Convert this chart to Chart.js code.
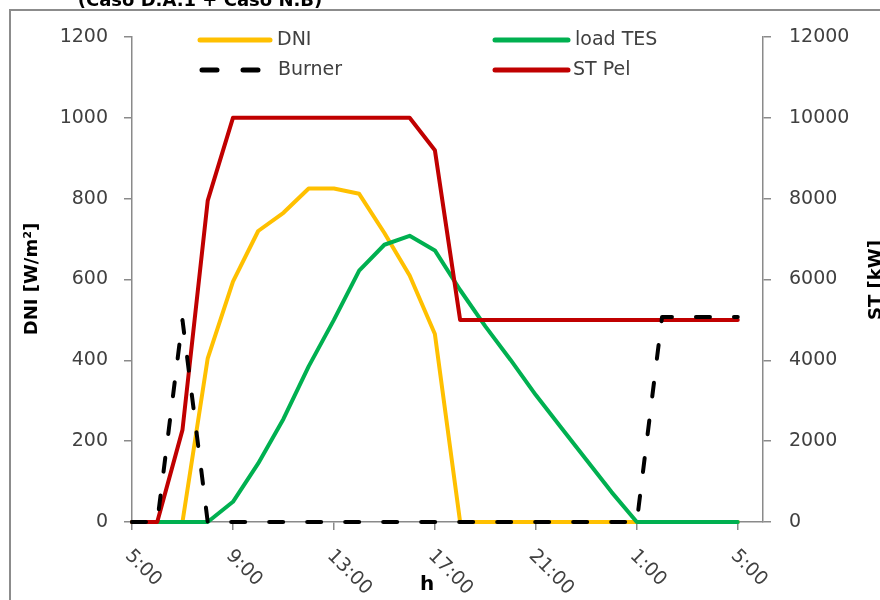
<!DOCTYPE html>
<html>
<head>
<meta charset="utf-8">
<script src="https://cdn.jsdelivr.net/npm/chart.js@4.4.0/dist/chart.umd.min.js"></script>
<style>
  html, body { margin: 0; padding: 0; background: #fff; }
</style>
</head>
<body>
<canvas id="chart" width="880" height="600"></canvas>
<script>
// categorias: horas desde 5:00 hasta 6:00 del dia siguiente
const hourLabels = ['5:00', '6:00', '7:00', '8:00', '9:00', '10:00', '11:00', '12:00', '13:00',
    '14:00', '15:00', '16:00', '17:00', '18:00', '19:00', '20:00', '21:00', '22:00', '23:00',
    '0:00', '1:00', '2:00', '3:00', '4:00', '5:00', '6:00'];
const shownTicks = [0, 4, 8, 12, 16, 20, 24];

// DNI [W/m2] (eje izquierdo)
const dniValues = [0, 0, 0, 405, 595, 720, 765, 825, 825, 812, 715, 610, 465, 0,
    0, 0, 0, 0, 0, 0, 0, 0, 0, 0, 0];
// kW (eje derecho)
const loadTesValues = [0, 0, 0, 0, 500, 1450, 2550, 3850, 5000, 6220, 6860, 7080, 6720, 5740,
    4840, 4010, 3140, 2340, 1540, 740, 0, 0, 0, 0, 0];
const stPelValues = [0, 0, 2280, 7950, 10000, 10000, 10000, 10000, 10000, 10000, 10000, 10000, 9200, 5000,
    5000, 5000, 5000, 5000, 5000, 5000, 5000, 5000, 5000, 5000, 5000];
const burnerValues = [0, 0, 5000, 0, 0, 0, 0, 0, 0, 0, 0, 0, 0, 0,
    0, 0, 0, 0, 0, 0, 0, 5070, 5070, 5070, 5070];

const leftTicks = [0, 200, 400, 600, 800, 1000, 1200];
const rightTicks = [0, 2000, 4000, 6000, 8000, 10000, 12000];

const axisGray = '#8a8a8a';
const tickColor = '#404040';
const tickFont = { family: 'DejaVu Sans', size: 19 };

const decorations = {
    id: 'decorations',
    beforeDraw(chart) {
        const ctx = chart.ctx;
        ctx.save();
        ctx.fillStyle = '#fff';
        ctx.fillRect(0, 0, chart.width, chart.height);
        ctx.strokeStyle = '#8c8c8c';
        ctx.lineWidth = 2;
        ctx.strokeRect(10, 10, chart.width + 20, chart.height + 20);
        // titulo (cortado arriba)
        ctx.fillStyle = '#000';
        ctx.font = 'bold 18px "DejaVu Sans"';
        ctx.textAlign = 'center';
        ctx.textBaseline = 'alphabetic';
        ctx.fillText('(Caso D.A.1 + Caso N.B)', 200, 6);
        ctx.restore();
    },
    afterDraw(chart) {
        const ctx = chart.ctx;
        const xs = chart.scales.x;
        ctx.save();

        // etiquetas del eje x giradas 45 grados
        ctx.font = '19px "DejaVu Sans"';
        ctx.fillStyle = tickColor;
        ctx.textAlign = 'left';
        ctx.textBaseline = 'middle';
        shownTicks.forEach((i) => {
            const px = xs.getPixelForValue(i);
            ctx.save();
            ctx.translate(px - 4, xs.top + 31);
            ctx.rotate(Math.PI / 4);
            ctx.fillText(hourLabels[i], 0, 0);
            ctx.restore();
        });

        // titulos de ejes
        ctx.fillStyle = '#000';
        ctx.font = 'bold 20px "DejaVu Sans"';
        ctx.textAlign = 'center';
        ctx.fillText('h', 427, 585);

        ctx.font = 'bold 18px "DejaVu Sans"';
        ctx.save();
        ctx.translate(32, 279);
        ctx.rotate(-Math.PI / 2);
        ctx.fillText('DNI [W/m²]', 0, 0);
        ctx.restore();

        ctx.save();
        ctx.translate(867, 280);
        ctx.rotate(-Math.PI / 2);
        ctx.textBaseline = 'top';
        ctx.fillText('ST [kW]', 0, 0);
        ctx.restore();

        // leyenda en dos columnas
        const byLabel = {};
        chart.data.datasets.forEach(ds => { byLabel[ds.label] = ds; });
        const items = [
            { label: 'DNI', x1: 200, x2: 270, y: 40, tx: 277 },
            { label: 'Burner', x1: 202, x2: 265, y: 70, tx: 278 },
            { label: 'load TES', x1: 495, x2: 568, y: 40, tx: 575 },
            { label: 'ST Pel', x1: 495, x2: 568, y: 70, tx: 573 },
        ];
        items.forEach(it => {
            const ds = byLabel[it.label];
            ctx.save();
            ctx.strokeStyle = ds.borderColor;
            ctx.lineWidth = 5;
            ctx.lineCap = 'round';
            ctx.setLineDash(ds.borderDash ? [15, 26] : []);
            ctx.beginPath();
            ctx.moveTo(it.x1, it.y);
            ctx.lineTo(it.x2, it.y);
            ctx.stroke();
            ctx.restore();
            ctx.fillStyle = tickColor;
            ctx.font = '19px "DejaVu Sans"';
            ctx.textAlign = 'left';
            ctx.textBaseline = 'middle';
            ctx.fillText(it.label, it.tx, it.y);
        });
        ctx.restore();
    }
};

const lineDefaults = {
    borderWidth: 4,
    pointRadius: 0,
    tension: 0,
    clip: false,
    borderJoinStyle: 'round',
    borderCapStyle: 'round',
    fill: false,
};

new Chart(document.getElementById('chart'), {
    type: 'line',
    data: {
        labels: hourLabels,
        datasets: [
            { ...lineDefaults, label: 'Burner', data: burnerValues, yAxisID: 'y2',
              borderColor: '#000000', borderDash: [14, 24] },
            { ...lineDefaults, label: 'ST Pel', data: stPelValues, yAxisID: 'y2', borderColor: '#C00000' },
            { ...lineDefaults, label: 'load TES', data: loadTesValues, yAxisID: 'y2', borderColor: '#00B050' },
            { ...lineDefaults, label: 'DNI', data: dniValues, yAxisID: 'y', borderColor: '#FFC000' },
        ]
    },
    options: {
        responsive: false,
        animation: false,
        devicePixelRatio: 1,
        layout: { padding: { top: 37, left: 0, right: 0, bottom: 0 } },
        plugins: {
            legend: { display: false },
            tooltip: { enabled: false },
        },
        scales: {
            x: {
                type: 'category',
                offset: false,
                ticks: { display: false, autoSkip: false },
                grid: {
                    drawOnChartArea: false,
                    drawTicks: true,
                    tickLength: 8,
                    lineWidth: 1.5,
                    color: (c) => shownTicks.includes(c.index) ? axisGray : 'rgba(0,0,0,0)',
                },
                border: { display: true, color: axisGray, width: 1.5 },
                afterFit: (s) => { s.height = 78; },
            },
            y: {
                position: 'left',
                min: 0,
                max: 1200,
                afterBuildTicks: (s) => { s.ticks = leftTicks.map(v => ({ value: v })); },
                ticks: { color: tickColor, font: tickFont, padding: 16, callback: (v) => String(v) },
                grid: { drawOnChartArea: false, tickLength: 8, color: axisGray, lineWidth: 1.5 },
                border: { display: true, color: axisGray, width: 1.5 },
                afterFit: (s) => { s.width = 132; },
            },
            y2: {
                position: 'right',
                min: 0,
                max: 12000,
                afterBuildTicks: (s) => { s.ticks = rightTicks.map(v => ({ value: v })); },
                ticks: { color: tickColor, font: tickFont, padding: 18, callback: (v) => String(v) },
                grid: { drawOnChartArea: false, tickLength: 8, color: axisGray, lineWidth: 1.5 },
                border: { display: true, color: axisGray, width: 1.5 },
                afterFit: (s) => { s.width = 117; },
            },
        }
    },
    plugins: [decorations]
});
</script>
</body>
</html>
